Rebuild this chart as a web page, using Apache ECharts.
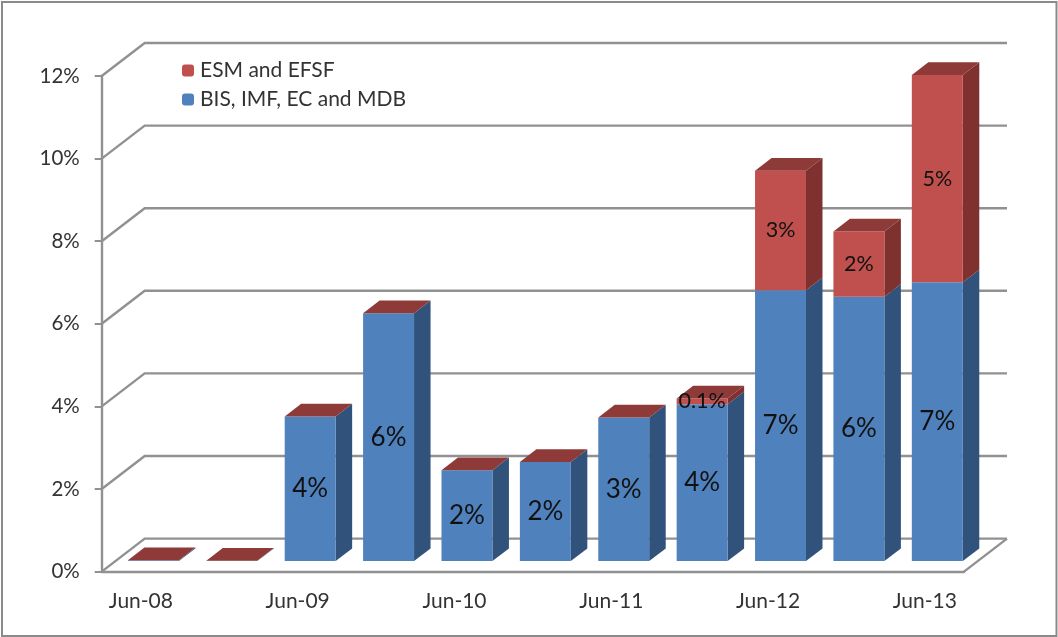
<!DOCTYPE html>
<html>
<head>
<meta charset="utf-8">
<style>
  html, body { margin: 0; padding: 0; background: #fff; }
  #charts { width: 1058px; height: 637px; }
</style>
<script src="https://cdn.jsdelivr.net/npm/echarts@6/dist/echarts.min.js"></script>
</head>
<body>
<div id="charts"></div>
<script>
// values
var categories = ['Jun-08', 'Dec-08', 'Jun-09', 'Dec-09', 'Jun-10', 'Dec-10', 'Jun-11', 'Dec-11', 'Jun-12', 'Dec-12', 'Jun-13'];
var bisValues = [0.02, 0.01, 3.5, 6.0, 2.2, 2.4, 3.48, 3.8, 6.56, 6.4, 6.75];
var esmValues = [0, 0, 0, 0, 0, 0, 0, 0.14, 2.89, 1.58, 5.02];
var bisLabels = ['', '', '4%', '6%', '2%', '2%', '3%', '4%', '7%', '6%', '7%'];
var esmLabels = ['', '', '', '', '', '', '', '0.1%', '3%', '2%', '5%'];
var yTicks = [0, 2, 4, 6, 8, 10, 12];

var FONT = 'Lato, "Open Sans", sans-serif';
var GRID_COLOR = '#919191';

// fake 3d: wall depth, how far the bars stand from the front, bar depth
var wallDx = 43, wallDy = -33;
var barDx = 12.5, barDy = -10.5;
var sideDx = 16.5, sideDy = -12.7;

var blue = { front: '#4f81bd', side: '#31527b', top: '#3d6595' };
var red = { front: '#c0504d', side: '#7e312f', top: '#8e3a38' };

function poly(points, color) {
    return { type: 'polygon', shape: { points: points }, style: { fill: color } };
}

function renderWall(params, api) {
    var v = api.value(1);
    var box = params.coordSys;
    var y = api.coord([0, v])[1];
    var left = box.x, right = box.x + box.width;
    var style = { stroke: GRID_COLOR, lineWidth: 2.4, fill: null };
    var children = [{
        type: 'polyline',
        shape: { points: [[left, y], [left + wallDx, y + wallDy], [right + wallDx, y + wallDy]] },
        style: style
    }];
    if (v === 0) {
        children.push({
            type: 'polyline',
            shape: { points: [[right, y], [right + wallDx, y + wallDy]] },
            style: style
        });
    }
    return { type: 'group', children: children };
}

function barRenderer(colors, labels, fontSize, drawTop) {
    return function (params, api) {
        var i = api.value(0);
        var low = api.coord([i, api.value(1)]);
        var high = api.coord([i, api.value(2)]);
        var w = api.size([1, 0])[0] * 0.65;
        var x0 = low[0] - w / 2 + barDx, x1 = x0 + w;
        var y0 = low[1] + barDy, y1 = high[1] + barDy;
        var children = [
            poly([[x1, y0], [x1 + sideDx, y0 + sideDy], [x1 + sideDx, y1 + sideDy], [x1, y1]], colors.side),
            poly([[x0, y0], [x1, y0], [x1, y1], [x0, y1]], colors.front)
        ];
        if (drawTop) {
            children.push(poly([[x0, y1], [x1, y1], [x1 + sideDx, y1 + sideDy], [x0 + sideDx, y1 + sideDy]], colors.top));
        }
        if (labels[i]) {
            children.push({
                type: 'text',
                style: {
                    x: (x0 + x1) / 2,
                    y: (y0 + y1) / 2,
                    text: labels[i],
                    align: 'center',
                    verticalAlign: 'middle',
                    font: fontSize + 'px ' + FONT,
                    fill: '#111'
                }
            });
        }
        return { type: 'group', children: children };
    };
}

var bisData = bisValues.map(function (v, i) { return [i, 0, v]; });
var esmData = esmValues.map(function (v, i) { return [i, bisValues[i], bisValues[i] + v]; });
var wallData = yTicks.map(function (v) { return [0, v]; });

var myCharts = echarts.init(document.getElementById('charts'));
myCharts.setOption({
    animation: false,
    backgroundColor: '#fff',
    graphic: [{
        type: 'rect',
        shape: { x: 2, y: 2, width: 1054.5, height: 634 },
        style: { fill: null, stroke: '#8a8a8a', lineWidth: 2 },
        silent: true
    }],
    legend: {
        data: ['ESM and EFSF', 'BIS, IMF, EC and MDB'],
        orient: 'vertical',
        left: 177,
        top: 55,
        itemWidth: 12,
        itemHeight: 12,
        itemGap: 8,
        textStyle: { fontFamily: FONT, fontSize: 21, color: '#333', padding: [0, 0, 0, 1] }
    },
    grid: { left: 101.7, right: 94, top: 76, height: 495.6 },
    xAxis: {
        type: 'category',
        data: categories,
        axisTick: { show: false },
        axisLine: { lineStyle: { color: GRID_COLOR, width: 2.4 } },
        axisLabel: { interval: 1, margin: 19, fontFamily: FONT, fontSize: 21, color: '#333' }
    },
    yAxis: {
        type: 'value',
        min: 0,
        max: 12,
        interval: 2,
        splitLine: { show: false },
        axisLine: { show: true, lineStyle: { color: GRID_COLOR, width: 2.4 } },
        axisTick: { show: true, length: 7, lineStyle: { color: GRID_COLOR, width: 2 } },
        axisLabel: { margin: 22, fontFamily: FONT, fontSize: 20.5, color: '#333', formatter: '{value}%' }
    },
    series: [
        {
            name: 'walls',
            type: 'custom',
            silent: true,
            renderItem: renderWall,
            encode: { x: 0, y: 1 },
            data: wallData
        },
        {
            name: 'BIS, IMF, EC and MDB',
            type: 'custom',
            itemStyle: { color: blue.front },
            renderItem: barRenderer(blue, bisLabels, 26, false),
            encode: { x: 0, y: [1, 2] },
            data: bisData
        },
        {
            name: 'ESM and EFSF',
            type: 'custom',
            itemStyle: { color: red.front },
            renderItem: barRenderer(red, esmLabels, 21.5, true),
            encode: { x: 0, y: [1, 2] },
            data: esmData
        }
    ]
});
</script>
</body>
</html>
